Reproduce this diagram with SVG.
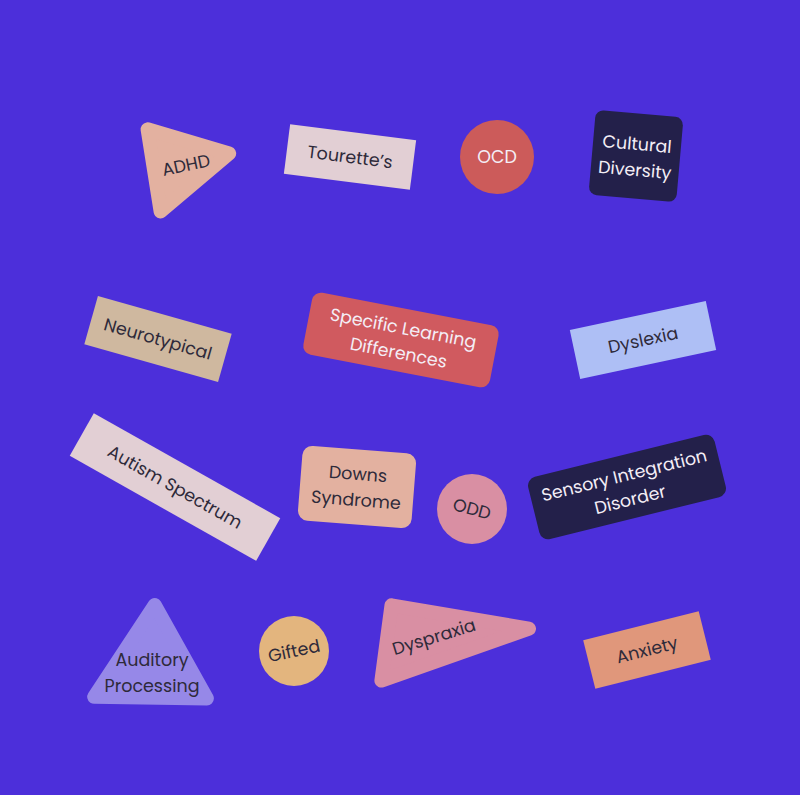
<svg xmlns="http://www.w3.org/2000/svg" width="800" height="795" viewBox="0 0 800 795">
<style>
text{font-family:"Poppins","Inter","Open Sans","Liberation Sans",sans-serif;font-size:17.5px;text-anchor:middle;dominant-baseline:central}
.d{fill:#2e2a3a}
.w{fill:#f4eef6}
.rt{stroke-linejoin:round;stroke-width:14}
</style>
<rect width="800" height="795" fill="#4c2fda"/>
<g id="adhd">
<polygon class="rt" points="147.6,129.3 229.2,153.5 160.6,211.5" fill="#e3b1a0" stroke="#e3b1a0"/>
<text class="d" transform="translate(186,165) rotate(-12)">ADHD</text>
</g>
<g id="tourettes" transform="translate(350,157) rotate(7.2)">
<rect x="-63.5" y="-25" width="127" height="50" fill="#e2cfd4"/>
<text class="d">Tourette’s</text>
</g>
<g id="ocd">
<circle cx="497" cy="157" r="37" fill="#cc5b5a"/>
<text class="w" x="497" y="157">OCD</text>
</g>
<g id="cultural" transform="translate(636,156) rotate(5)">
<rect x="-44" y="-42.5" width="88" height="85" rx="8" fill="#23204a"/>
<text class="w" y="-12">Cultural</text>
<text class="w" y="14">Diversity</text>
</g>
<g id="neurotypical" transform="translate(158,339) rotate(15.8)">
<rect x="-69.5" y="-25" width="139" height="50" fill="#cfb89f"/>
<text class="d">Neurotypical</text>
</g>
<g id="sld" transform="translate(401,340) rotate(10.9)">
<rect x="-95" y="-31.5" width="190" height="63" rx="9" fill="#d05a5f"/>
<text class="w" y="-12">Specific Learning</text>
<text class="w" y="13">Differences</text>
</g>
<g id="dyslexia" transform="translate(643,340) rotate(-12)">
<rect x="-69.5" y="-25" width="139" height="50" fill="#aebff5"/>
<text class="d">Dyslexia</text>
</g>
<g id="autism" transform="translate(175,487) rotate(29.4)">
<rect x="-107" y="-24.5" width="214" height="49" fill="#e2cfd4"/>
<text class="d">Autism Spectrum</text>
</g>
<g id="downs" transform="translate(357,487) rotate(4.5)">
<rect x="-57" y="-37.5" width="114" height="75" rx="10" fill="#e3b1a0"/>
<text class="d" y="-13">Downs</text>
<text class="d" y="13">Syndrome</text>
</g>
<g id="odd">
<circle cx="472" cy="509" r="35" fill="#d98fa3"/>
<text class="d" transform="translate(472,509) rotate(15)">ODD</text>
</g>
<g id="sensory" transform="translate(627,487) rotate(-13.9)">
<rect x="-96" y="-32" width="192" height="64" rx="9" fill="#23204a"/>
<text class="w" y="-12">Sensory Integration</text>
<text class="w" y="13">Disorder</text>
</g>
<g id="auditory">
<polygon class="rt" points="154.7,605 94.2,696.8 206.9,698.5" fill="#9688e8" stroke="#9688e8"/>
<text class="d" x="152" y="660">Auditory</text>
<text class="d" x="152" y="686">Processing</text>
</g>
<g id="gifted">
<circle cx="294" cy="651" r="35" fill="#e3b57e"/>
<text class="d" transform="translate(294,651) rotate(-12)">Gifted</text>
</g>
<g id="dyspraxia">
<polygon class="rt" points="391.5,605.3 529,628.7 381.4,680.6" fill="#d98fa3" stroke="#d98fa3"/>
<text class="d" transform="translate(434,637) rotate(-17)">Dyspraxia</text>
</g>
<g id="anxiety" transform="translate(647,650) rotate(-14)">
<rect x="-59.5" y="-25" width="119" height="50" fill="#e0977b"/>
<text class="d">Anxiety</text>
</g>
</svg>
